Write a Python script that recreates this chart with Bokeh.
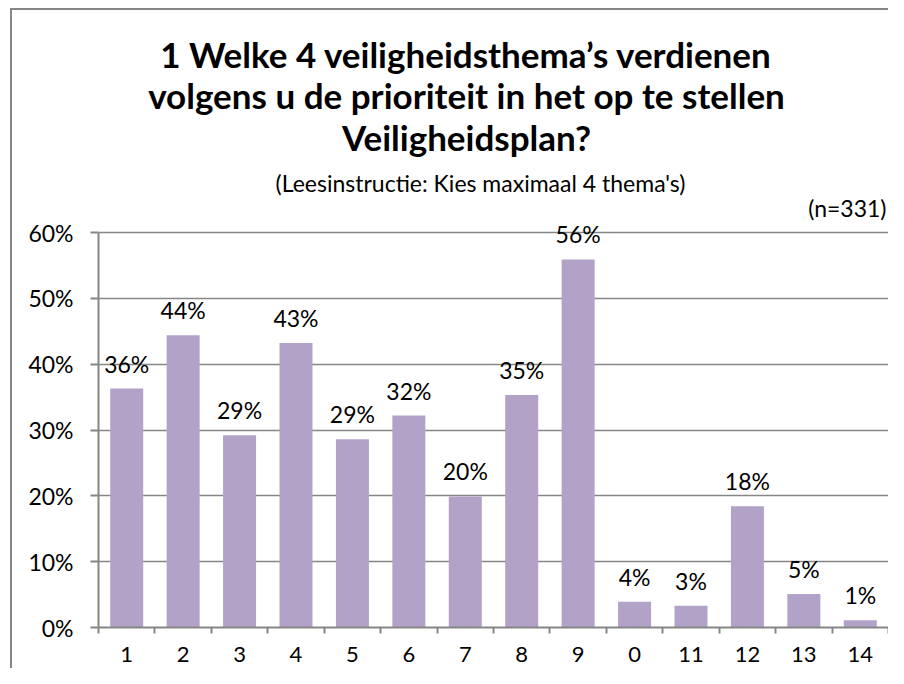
from bokeh.plotting import figure
from bokeh.models import (ColumnDataSource, FixedTicker, PrintfTickFormatter, LabelSet,
                          Label, Range1d)
from bokeh.core.properties import value
from bokeh.embed import file_html
from bokeh.resources import INLINE

# ---- data ----
categories = ["1", "2", "3", "4", "5", "6", "7", "8", "9", "0", "11", "12", "13", "14"]
values = [36.3, 44.4, 29.2, 43.2, 28.6, 32.2, 19.9, 35.3, 55.9, 3.9, 3.3, 18.4, 5.1, 1.1]
y_ticks = [0, 10, 20, 30, 40, 50, 60]
title_lines = ["1 Welke 4 veiligheidsthema\u2019s verdienen",
               "volgens u de prioriteit in het op te stellen",
               "Veiligheidsplan?"]
subtitle = "(Leesinstructie: Kies maximaal 4 thema's)"
n_note = "(n=331)"

FONT = "Lato"
GRAY = "#868686"
BAR = "#B3A2C7"

# ---- layout (pixels) ----
W, H = 888, 668
FRAME_LEFT, FRAME_RIGHT = 98, 888
AXIS_TOP, AXIS_BOTTOM = 232, 627      # where 60% and 0% lie
FRAME_TOP = 10
Y_MAX = max(y_ticks)
y_end = Y_MAX * (AXIS_BOTTOM - FRAME_TOP) / (AXIS_BOTTOM - AXIS_TOP)

positions = [i + 1 for i in range(len(categories))]
labels = ["%d%%" % round(v) for v in values]
src = ColumnDataSource(dict(x=positions, top=values, label=labels))

border_css = ("linear-gradient(#878787,#878787) 10px 8px / 2px 700px no-repeat, "
              "linear-gradient(#878787,#878787) 10px 8px / 100% 2px no-repeat, white")

p = figure(width=W, height=H, output_backend="svg", toolbar_location=None,
           x_range=Range1d(0.5, len(categories) + 0.5), y_range=Range1d(0, y_end),
           min_border_left=FRAME_LEFT, min_border_right=W - FRAME_RIGHT,
           min_border_top=FRAME_TOP, min_border_bottom=H - AXIS_BOTTOM)
p.styles = {"background": border_css}
p.outline_line_color = None
p.background_fill_color = None
p.border_fill_color = None

p.vbar(x="x", top="top", bottom=0, width=0.585, source=src, fill_color=BAR, line_color=None)

p.add_layout(LabelSet(x="x", y="top", text="label", source=src, y_offset=25,
                      text_align="center", text_baseline="middle",
                      text_font=value(FONT), text_font_size="23px", text_color="black"))

# axes
p.xaxis.ticker = FixedTicker(ticks=positions,
                             minor_ticks=[i + 0.5 for i in range(len(categories) + 1)])
p.xaxis.major_label_overrides = {pos: c for pos, c in zip(positions, categories)}
p.xaxis.major_tick_out = 0
p.xaxis.major_tick_in = 0
p.xaxis.minor_tick_out = 6
p.xaxis.minor_tick_in = 0
p.xaxis.minor_tick_line_color = GRAY
p.xaxis.minor_tick_line_width = 2
p.xaxis.axis_line_color = GRAY
p.xaxis.axis_line_width = 2
p.xaxis.major_label_text_font = FONT
p.xaxis.major_label_text_font_size = "22px"
p.xaxis.major_label_text_color = "black"
p.xaxis.major_label_standoff = 13

p.yaxis.ticker = FixedTicker(ticks=y_ticks)
p.yaxis.bounds = (0, Y_MAX)
p.yaxis.formatter = PrintfTickFormatter(format="%d%%")
p.yaxis.major_tick_out = 8
p.yaxis.major_tick_in = 0
p.yaxis.minor_tick_line_color = None
p.yaxis.major_tick_line_color = GRAY
p.yaxis.major_tick_line_width = 2
p.yaxis.axis_line_color = GRAY
p.yaxis.axis_line_width = 2
p.yaxis.major_label_text_font = FONT
p.yaxis.major_label_text_font_size = "23px"
p.yaxis.major_label_text_color = "black"
p.yaxis.major_label_standoff = 17

p.xgrid.grid_line_color = None
p.ygrid.ticker = FixedTicker(ticks=y_ticks)
p.ygrid.grid_line_color = GRAY
p.ygrid.grid_line_width = 1.5


def add_text(text, cx, cy, size, bold=False, align="center"):
    p.add_layout(Label(x=cx - FRAME_LEFT, y=AXIS_BOTTOM - cy, x_units="screen", y_units="screen",
                       text=text, text_align=align, text_baseline="middle", text_font=FONT,
                       text_font_size=size, text_font_style="bold" if bold else "normal",
                       text_color="black"))


for i, t in enumerate(title_lines):
    add_text(t, 466, 53 + 41.5 * i, "35px", bold=True)
add_text(subtitle, 480, 182, "23px")
add_text(n_note, 886, 207, "23px", align="right")

open("out.html", "w").write(file_html(p, INLINE))
